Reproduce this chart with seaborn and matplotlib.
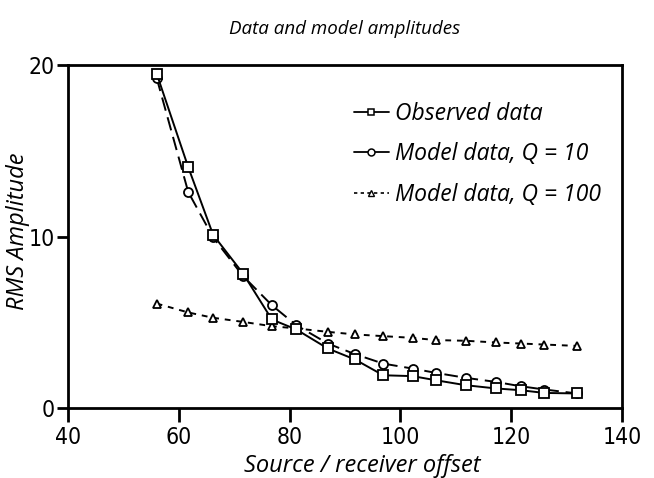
import numpy as np
import pandas as pd
import seaborn as sns
import matplotlib
matplotlib.use("Agg")
import matplotlib.pyplot as plt
from matplotlib.lines import Line2D
from matplotlib import font_manager
from matplotlib.font_manager import FontProperties

offset = [56, 61.7, 66.2, 71.6, 76.8, 81.2, 86.9, 91.8, 96.9, 102.2, 106.4, 111.8, 117.3, 121.7, 126.0, 131.9]
observed = [19.5, 14.05, 10.1, 7.85, 5.17, 4.59, 3.48, 2.84, 1.92, 1.87, 1.63, 1.34, 1.15, 1.05, 0.89, 0.86]
model_q10 = [19.25, 12.6, 9.95, 7.7, 6.0, 4.84, 3.77, 3.15, 2.6, 2.31, 2.06, 1.77, 1.53, 1.28, 1.09, 0.86]
model_q100 = [6.1, 5.58, 5.27, 5.03, 4.78, 4.65, 4.45, 4.3, 4.2, 4.1, 3.97, 3.93, 3.83, 3.77, 3.71, 3.63]
series_labels = ["Observed data", "Model data, Q = 10", "Model data, Q = 100"]
x_ticks = [40, 60, 80, 100, 120, 140]
y_ticks = [0, 10, 20]

sns.set_theme(style="ticks")
plt.rcParams["font.family"] = ["Open Sans", "DejaVu Sans"]
for k in ["text.color", "axes.labelcolor", "xtick.color", "ytick.color", "axes.edgecolor"]:
    plt.rcParams[k] = "black"

# pick a narrow font for tick numbers if one is installed
tick_fp = None
for f in font_manager.fontManager.ttflist:
    if ("Narrow" in f.name or "Condensed" in f.name or
            "condensed" in str(f.stretch)) and f.style == "normal" and f.weight in (400, "normal", "regular"):
        tick_fp = FontProperties(fname=f.fname, size=16.5)
        break
if tick_fp is None:
    tick_fp = FontProperties(family="Liberation Sans", size=15.5)

fig = plt.figure(figsize=(6.54, 4.78), dpi=100)
ax = fig.add_axes([0.104, 0.146, 0.847, 0.718])

df = pd.DataFrame({"offset": offset, "obs": observed, "q10": model_q10, "q100": model_q100})

common = dict(color="black", linewidth=1.4, markerfacecolor="white",
              markeredgecolor="black", markeredgewidth=1.3, legend=False)
sns.lineplot(data=df, x="offset", y="q100", ax=ax, marker="^", markersize=6,
             linestyle=(0, (3, 3)), **common)
sns.lineplot(data=df, x="offset", y="q10", ax=ax, marker="o", markersize=6.5,
             linestyle=(0, (7, 3.5)), **common)
sns.lineplot(data=df, x="offset", y="obs", ax=ax, marker="s", markersize=6.5,
             linestyle="-", **common)

ax.set_xlim(40, 140)
ax.set_ylim(0, 20)
ax.set_xticks(x_ticks)
ax.set_yticks(y_ticks)
for s in ax.spines.values():
    s.set_linewidth(2.0)
    s.set_color("black")
ax.tick_params(axis="x", direction="out", length=10, width=2, pad=3)
ax.tick_params(axis="y", direction="out", length=8, width=2, pad=1.5)
for lab in ax.get_xticklabels() + ax.get_yticklabels():
    lab.set_fontproperties(tick_fp)

ax.set_xlabel("Source / receiver offset", fontsize=17, style="italic")
ax.xaxis.set_label_coords(0.532, -0.132)
ax.set_ylabel("RMS Amplitude", fontsize=17, style="italic")
ax.yaxis.set_label_coords(-0.09, 0.516)
ax.yaxis.label.set_verticalalignment("center")
ax.set_title("Data and model amplitudes", fontsize=13.5, style="italic", pad=22)

handles = [
    Line2D([], [], color="black", lw=1.3, marker="s", markersize=5, markerfacecolor="white", markeredgewidth=1.1),
    Line2D([], [], color="black", lw=1.3, marker="o", markersize=5, markerfacecolor="white", markeredgewidth=1.1),
    Line2D([], [], color="black", lw=1.2, ls=(0, (2, 2)), marker="^", markersize=4.5, markerfacecolor="white", markeredgewidth=1.0),
]
ax.legend(handles, series_labels, loc="upper left", bbox_to_anchor=(0.5, 0.92),
          frameon=False, prop={"size": 16.5, "style": "italic"}, handlelength=1.5,
          handletextpad=0.3, labelspacing=0.72, borderaxespad=0)

fig.savefig("out.png", dpi=100)
